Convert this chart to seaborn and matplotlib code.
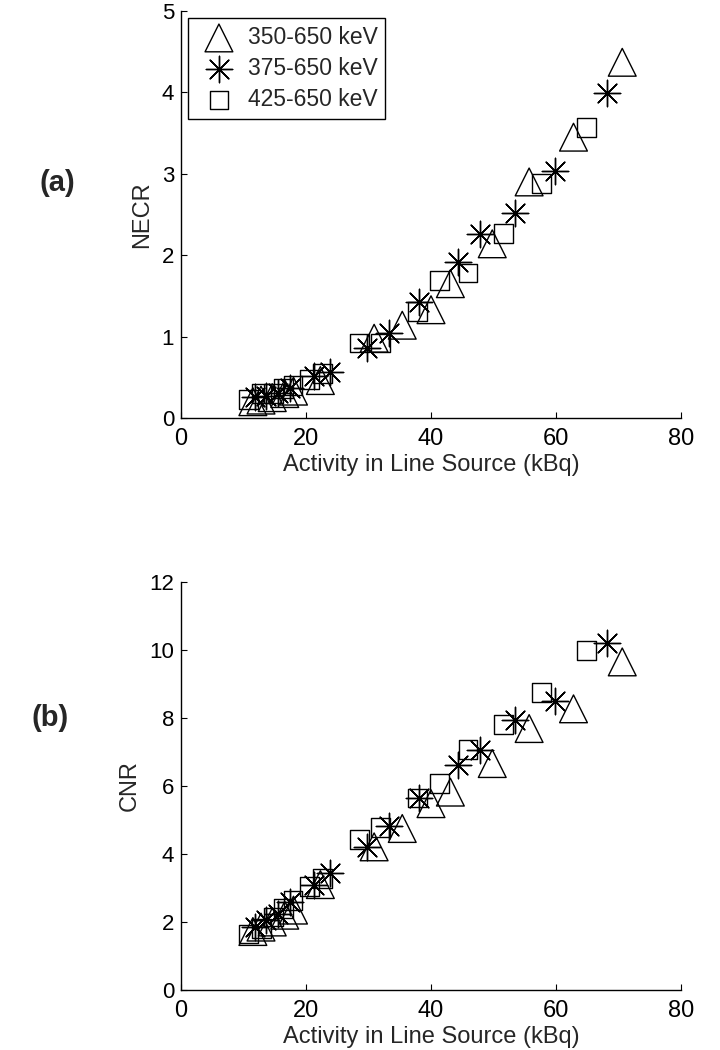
import matplotlib
matplotlib.use("Agg")
import matplotlib.pyplot as plt
import pandas as pd
import seaborn as sns

# energy windows
windows = ["350-650 keV", "375-650 keV", "425-650 keV"]

# activity in line source (kBq)
x_350 = [11.5, 12.8, 14.6, 16.6, 18.0, 22.3, 30.9, 35.4, 40.0, 43.1, 49.8, 55.7, 62.8, 70.6]
x_375 = [11.9, 13.6, 15.5, 17.4, 21.2, 23.8, 29.7, 33.3, 38.1, 44.3, 47.9, 53.4, 59.9, 68.2]
x_425 = [10.8, 12.9, 14.8, 16.4, 17.9, 20.6, 22.6, 28.5, 31.9, 37.8, 41.3, 45.9, 51.6, 57.7, 64.9]

# panel (a) NECR
necr_350 = [0.20, 0.22, 0.25, 0.30, 0.33, 0.46, 0.98, 1.14, 1.33, 1.65, 2.14, 2.90, 3.45, 4.37]
necr_375 = [0.26, 0.27, 0.31, 0.37, 0.51, 0.56, 0.86, 1.05, 1.43, 1.92, 2.26, 2.52, 3.04, 3.99]
necr_425 = [0.23, 0.30, 0.30, 0.36, 0.40, 0.47, 0.55, 0.92, 0.92, 1.31, 1.69, 1.78, 2.27, 2.88, 3.57]

# panel (b) CNR
cnr_350 = [1.72, 1.85, 2.00, 2.20, 2.35, 3.10, 4.21, 4.75, 5.48, 5.82, 6.66, 7.69, 8.27, 9.65]
cnr_375 = [1.85, 2.05, 2.25, 2.60, 3.10, 3.44, 4.21, 4.81, 5.65, 6.61, 7.07, 7.93, 8.49, 10.21]
cnr_425 = [1.65, 1.80, 2.15, 2.40, 2.64, 3.05, 3.27, 4.42, 4.79, 5.65, 6.07, 7.07, 7.81, 8.76, 9.99]

sns.set_style("ticks")
plt.rcParams.update({
    "font.family": ["Liberation Sans", "DejaVu Sans"],
    "xtick.direction": "in",
    "ytick.direction": "in",
    "xtick.major.size": 4,
    "ytick.major.size": 4,
    "axes.linewidth": 1.0,
    "axes.edgecolor": "black",
})

# marker, scatter size (pt^2)
styles = {
    "350-650 keV": ("^", 20.0 ** 2),
    "375-650 keV": ((8, 2, 0), 19.0 ** 2),
    "425-650 keV": ("s", 13.5 ** 2),
}


def draw_panel(ax, xs, ys, ylim, yticks, ylabel, legend=False):
    for name, x, y in zip(windows, xs, ys):
        df = pd.DataFrame({"activity": x, "value": y})
        marker, size = styles[name]
        if name == "375-650 keV":
            sns.scatterplot(data=df, x="activity", y="value", marker=marker, s=size,
                            color="black", linewidth=1.0, label=name, ax=ax, zorder=3)
        else:
            sns.scatterplot(data=df, x="activity", y="value", marker=marker, s=size,
                            facecolor="none", edgecolor="black", linewidth=1.0,
                            label=name, ax=ax, zorder=3)
    ax.set_xlim(0, 80)
    ax.set_ylim(*ylim)
    ax.set_xticks([0, 20, 40, 60, 80])
    ax.set_yticks(yticks)
    ax.tick_params(axis="y", labelsize=16, pad=5, colors="black")
    ax.tick_params(axis="x", labelsize=17, pad=7, colors="black")
    ax.set_xlabel("Activity in Line Source (kBq)", fontsize=17, labelpad=3)
    ax.set_ylabel(ylabel, fontsize=17, labelpad=6)
    sns.despine(ax=ax)
    if legend:
        leg = ax.legend(loc="upper left", bbox_to_anchor=(0.014, 0.983), borderaxespad=0,
                        fontsize=16.5, frameon=True, fancybox=False, edgecolor="black",
                        framealpha=1, handletextpad=0.25, labelspacing=0.35,
                        borderpad=0.35, scatterpoints=1)
        leg.get_frame().set_linewidth(1.0)
    else:
        ax.get_legend().remove()


fig = plt.figure(figsize=(7.2, 10.5), dpi=100)
ax_a = fig.add_axes([181 / 720, 1 - 418 / 1050, 500 / 720, 407 / 1050])
ax_b = fig.add_axes([181 / 720, 1 - 990 / 1050, 500 / 720, 408 / 1050])

draw_panel(ax_a, [x_350, x_375, x_425], [necr_350, necr_375, necr_425],
           (0, 5), [0, 1, 2, 3, 4, 5], "NECR", legend=True)
draw_panel(ax_b, [x_350, x_375, x_425], [cnr_350, cnr_375, cnr_425],
           (0, 12), [0, 2, 4, 6, 8, 10, 12], "CNR")

fig.text(57 / 720, 1 - 183 / 1050, "(a)", fontsize=21, fontweight="bold", ha="center", va="center")
fig.text(50 / 720, 1 - 718 / 1050, "(b)", fontsize=21, fontweight="bold", ha="center", va="center")

fig.savefig("out.png", dpi=100, facecolor="white")
